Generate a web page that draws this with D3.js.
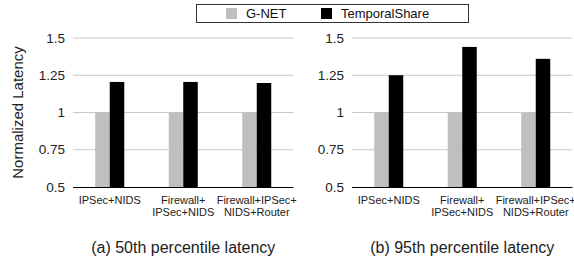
<!DOCTYPE html>
<html>
<head>
<meta charset="utf-8">
<script src="https://cdn.jsdelivr.net/npm/d3@7"></script>
<style>
  body { margin: 0; background: #fff; }
  svg { display: block; font-family: "Liberation Sans", Arial, sans-serif; }
</style>
</head>
<body>
<div id="chart"></div>
<script>
// chart data
let categories = [
    ["IPSec+NIDS"],
    ["Firewall+", "IPSec+NIDS"],
    ["Firewall+IPSec+", "NIDS+Router"]
];
let seriesNames = ["G-NET", "TemporalShare"];
let colors = ["#bfbfbf", "#000000"];
let gnet50 = [1, 1, 1];
let temporal50 = [1.205, 1.205, 1.198];
let gnet95 = [1, 1, 1];
let temporal95 = [1.25, 1.44, 1.36];
let yTicks = [0.5, 0.75, 1, 1.25, 1.5];
let yTickLabels = ["0.5", "0.75", "1", "1.25", "1.5"];
let captions = ["(a) 50th percentile latency", "(b) 95th percentile latency"];

let W = 574, H = 256;

let svg = d3.select("#chart").append("svg")
    .attr("width", W)
    .attr("height", H);

svg.append("defs").append("clipPath")
    .attr("id", "clipPage")
    .append("rect")
    .attr("width", W).attr("height", H);

/**
 * Draws one bar panel between left and right.
 */
function panel(left, right, gValues, tValues, caption, showTitle) {
    let top = 38, bottom = 187;

    let x = d3.scaleBand()
        .domain(d3.range(categories.length))
        .range([left, right]);

    let x1 = d3.scaleBand()
        .domain(seriesNames)
        .range([0, 29]);

    let y = d3.scaleLinear()
        .domain([0.5, 1.5])
        .range([bottom, top]);

    let g = svg.append("g").attr("clip-path", "url(#clipPage)");

    // gridlines
    g.selectAll("line.grid")
        .data(yTicks.filter(function(d) { return d > 0.5; }))
        .enter().append("line")
        .attr("class", "grid")
        .attr("x1", left).attr("x2", right)
        .attr("y1", function(d) { return y(d); })
        .attr("y2", function(d) { return y(d); })
        .attr("stroke", "#c8c8c8")
        .attr("stroke-width", 1);

    // y tick labels
    g.selectAll("text.ytick")
        .data(yTicks)
        .enter().append("text")
        .attr("class", "ytick")
        .attr("x", left - 8)
        .attr("y", function(d) { return y(d); })
        .attr("dy", "0.35em")
        .attr("text-anchor", "end")
        .attr("font-size", 13.5)
        .attr("fill", "#222")
        .text(function(d, i) { return yTickLabels[i]; });

    // bars
    let rows = categories.map(function(c, i) {
        return [
            {series: seriesNames[0], value: gValues[i], i: i},
            {series: seriesNames[1], value: tValues[i], i: i}
        ];
    });

    let groups = g.selectAll("g.cat")
        .data(rows)
        .enter().append("g")
        .attr("class", "cat")
        .attr("transform", function(d, i) {
            return "translate(" + (x(i) + x.bandwidth() / 2 - 14.5) + ",0)";
        });

    groups.selectAll("rect")
        .data(function(d) { return d; })
        .enter().append("rect")
        .attr("x", function(d) { return x1(d.series); })
        .attr("width", x1.bandwidth())
        .attr("y", function(d) { return y(d.value); })
        .attr("height", function(d) { return y(0.5) - y(d.value); })
        .attr("fill", function(d, j) { return colors[j]; });

    // baseline
    g.append("line")
        .attr("x1", left).attr("x2", right)
        .attr("y1", y(0.5) + 0.5).attr("y2", y(0.5) + 0.5)
        .attr("stroke", "#000")
        .attr("stroke-width", 1.2);

    // category labels
    let labels = g.selectAll("text.xlabel")
        .data(categories)
        .enter().append("text")
        .attr("class", "xlabel")
        .attr("text-anchor", "middle")
        .attr("font-size", 11)
        .attr("fill", "#222")
        .attr("transform", function(d, i) {
            return "translate(" + (x(i) + x.bandwidth() / 2) + ",204)";
        });

    labels.selectAll("tspan")
        .data(function(d) { return d; })
        .enter().append("tspan")
        .attr("x", 0)
        .attr("y", function(d, j) { return j * 12; })
        .text(function(d) { return d; });

    // caption
    svg.append("text")
        .attr("x", (left + right) / 2)
        .attr("y", 253)
        .attr("text-anchor", "middle")
        .attr("font-size", 16)
        .attr("fill", "#222")
        .text(caption);

    if (showTitle) {
        svg.append("text")
            .attr("transform", "translate(23," + ((top + bottom) / 2) + ") rotate(-90)")
            .attr("text-anchor", "middle")
            .attr("font-size", 15)
            .attr("fill", "#222")
            .text("Normalized Latency");
    }
}

panel(73, 293.5, gnet50, temporal50, captions[0], true);
panel(352, 572.5, gnet95, temporal95, captions[1], false);

// legend
let legend = svg.append("g");
legend.append("rect")
    .attr("x", 196.5).attr("y", 4.5)
    .attr("width", 272).attr("height", 18)
    .attr("fill", "#fff")
    .attr("stroke", "#333")
    .attr("stroke-width", 1);

let legendX = [226, 321];
let items = legend.selectAll("g.item")
    .data(seriesNames)
    .enter().append("g")
    .attr("class", "item")
    .attr("transform", function(d, i) { return "translate(" + legendX[i] + ",0)"; });

items.append("rect")
    .attr("x", 0).attr("y", 8)
    .attr("width", 11).attr("height", 11)
    .attr("fill", function(d, i) { return colors[i]; });

items.append("text")
    .attr("x", 20).attr("y", 13.5)
    .attr("dy", "0.35em")
    .attr("font-size", 13)
    .attr("fill", "#111")
    .text(function(d) { return d; });
</script>
</body>
</html>
